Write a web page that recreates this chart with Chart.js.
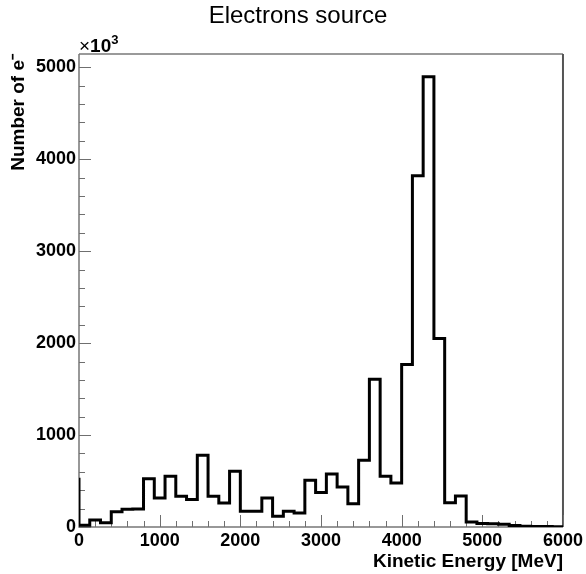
<!DOCTYPE html>
<html>
<head>
<meta charset="utf-8">
<script src="https://cdn.jsdelivr.net/npm/chart.js@4/dist/chart.umd.min.js"></script>
<style>
  html, body { margin: 0; padding: 0; background: #fff; }
  #wrap { width: 586px; height: 574px; }
</style>
</head>
<body>
<div id="wrap"><canvas id="sourceChart" width="586" height="574"></canvas></div>
<script>
// histogram: 45 bins over 0-6000 MeV, plus the bin just below 0 (clipped, shows as the edge spike)
const xRange = [0, 6000];
const nBins = 45;
const underflow = 520;
const counts = [
  20, 75, 45, 165, 192, 195, 526, 316, 552, 334,
  298, 780, 334, 261, 606, 171, 171, 316, 116, 171,
  153, 508, 374, 577, 436, 254, 726, 1607, 552, 479,
  1767, 3820, 4897, 2050, 265, 337, 55, 38, 36, 30,
  15, 8, 6, 5, 4,
];
const yTicks = [0, 1000, 2000, 3000, 4000, 5000];
const xTicks = [0, 1000, 2000, 3000, 4000, 5000, 6000];

const binWidth = (xRange[1] - xRange[0]) / nBins;
const points = [{ x: xRange[0] - binWidth, y: underflow }];
counts.forEach((c, i) => points.push({ x: xRange[0] + i * binWidth, y: c }));
points.push({ x: xRange[1], y: counts[counts.length - 1] });

const FONT = "'Liberation Sans', Arial, Helvetica, sans-serif";

// ROOT-like frame with inner tick marks, the title and the x10^3 exponent
const frameTicks = {
  id: "frameTicks",
  beforeDatasetsDraw(chart) {
    const { ctx, chartArea: a, scales: { x, y } } = chart;
    ctx.save();
    ctx.lineWidth = 2;
    ctx.strokeStyle = "#9a9a9a";
    ctx.beginPath(); ctx.moveTo(a.left, a.top); ctx.lineTo(a.right, a.top); ctx.stroke();
    ctx.strokeStyle = "#555";
    ctx.beginPath(); ctx.moveTo(a.right, a.top); ctx.lineTo(a.right, a.bottom); ctx.stroke();
    ctx.strokeStyle = "#777";
    ctx.lineWidth = 1.5;
    ctx.beginPath();
    ctx.moveTo(a.left, a.top); ctx.lineTo(a.left, a.bottom); ctx.lineTo(a.right, a.bottom);
    ctx.stroke();

    ctx.lineWidth = 1;
    ctx.strokeStyle = "#6f6f6f";
    ctx.beginPath();
    for (let v = 0; v <= y.max; v += 200) {
      const py = Math.round(y.getPixelForValue(v)) + 0.5;
      const len = v % 1000 === 0 ? 12 : 6;
      ctx.moveTo(a.left, py); ctx.lineTo(a.left + len, py);
    }
    for (let v = 0; v <= x.max; v += 200) {
      const px = Math.round(x.getPixelForValue(v)) + 0.5;
      const len = v % 1000 === 0 ? 12 : 6;
      ctx.moveTo(px, a.bottom); ctx.lineTo(px, a.bottom - len);
    }
    ctx.stroke();

    ctx.fillStyle = "#000";
    ctx.textAlign = "center";
    ctx.textBaseline = "middle";
    ctx.font = "24px " + FONT;
    ctx.fillText("Electrons source", 298, 16);

    ctx.textBaseline = "alphabetic";
    ctx.textAlign = "left";
    ctx.font = "19px " + FONT;
    ctx.fillText("×", a.left, a.top - 2);
    let w = ctx.measureText("×").width;
    ctx.font = "bold 19px " + FONT;
    ctx.fillText("10", a.left + w, a.top - 2);
    w += ctx.measureText("10").width;
    ctx.font = "bold 13px " + FONT;
    ctx.fillText("3", a.left + w, a.top - 10);
    ctx.restore();
  },
};

const ctx = document.getElementById("sourceChart").getContext("2d");
const sourceChart = new Chart(ctx, {
  type: "line",
  data: {
    datasets: [
      {
        data: points,
        stepped: true,
        borderColor: "#000",
        borderWidth: 3,
        pointRadius: 0,
        fill: false,
        tension: 0,
      },
    ],
  },
  options: {
    responsive: false,
    animation: false,
    events: [],
    layout: { padding: { left: 0, right: 23, top: 54, bottom: 0 } },
    plugins: {
      legend: { display: false },
      tooltip: { enabled: false },
      title: { display: false },
    },
    scales: {
      x: {
        type: "linear",
        min: xRange[0],
        max: xRange[1],
        afterFit: (s) => { s.height = 47; },
        afterBuildTicks: (s) => { s.ticks = xTicks.map((v) => ({ value: v })); },
        grid: { display: false, drawTicks: false },
        border: { display: false },
        ticks: {
          padding: 3,
          color: "#000",
          maxRotation: 0,
          autoSkip: false,
          font: { family: FONT, size: 18, weight: "bold" },
          callback: (v) => String(v),
        },
        title: {
          display: true,
          text: "Kinetic Energy [MeV]",
          align: "end",
          color: "#000",
          font: { family: FONT, size: 19, weight: "bold", lineHeight: 1.2 },
          padding: { top: 0, bottom: 1 },
        },
      },
      y: {
        min: 0,
        max: 5145,
        afterFit: (s) => { s.width = 79; },
        afterBuildTicks: (s) => { s.ticks = yTicks.map((v) => ({ value: v })); },
        grid: { display: false, drawTicks: false },
        border: { display: false },
        ticks: {
          padding: 3,
          color: "#000",
          autoSkip: false,
          font: { family: FONT, size: 18, weight: "bold" },
          callback: (v) => String(v),
        },
        title: {
          display: true,
          text: "Number of e⁻",
          align: "end",
          color: "#000",
          font: { family: FONT, size: 19, weight: "bold", lineHeight: 1.2 },
          padding: { top: 7, bottom: 0 },
        },
      },
    },
  },
  plugins: [frameTicks],
});
</script>
</body>
</html>
